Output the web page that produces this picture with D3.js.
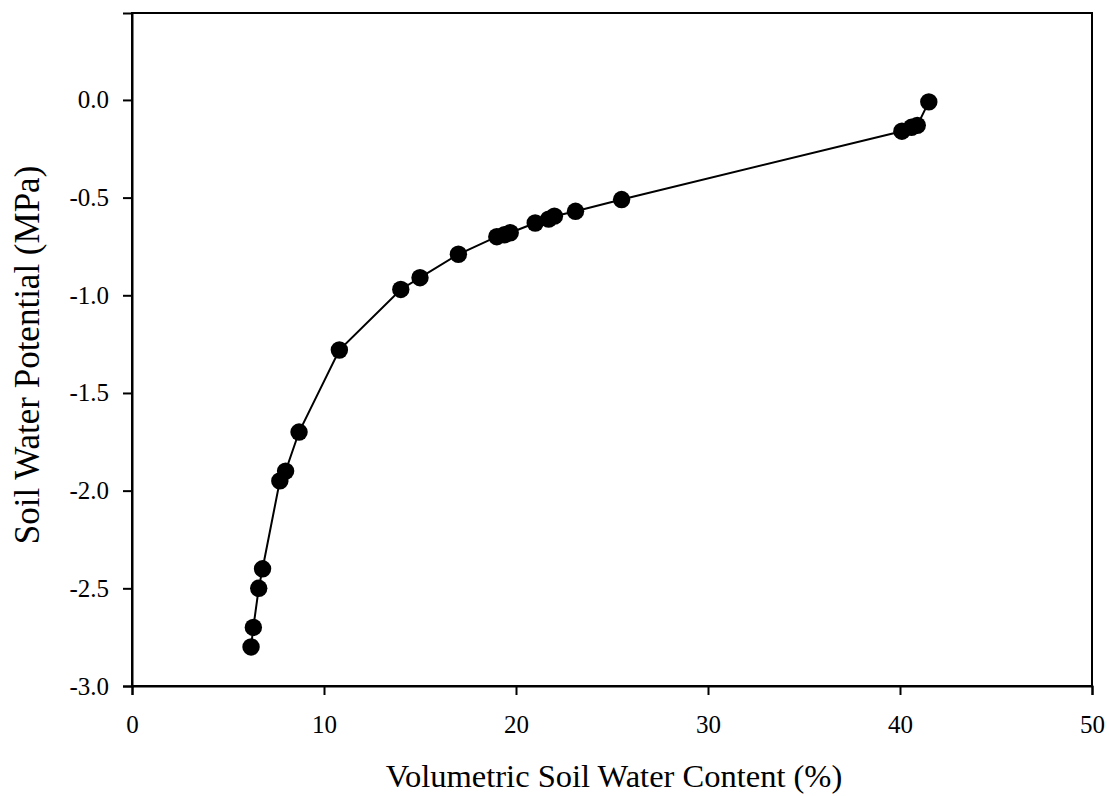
<!DOCTYPE html>
<html>
<head>
<meta charset="utf-8">
<script src="https://cdn.jsdelivr.net/npm/d3@7"></script>
<style>
  html, body { margin: 0; padding: 0; background: #fff; }
  svg { display: block; }
  text { font-family: "Liberation Serif", "Times New Roman", serif; fill: #000; }
</style>
</head>
<body>
<svg id="chart" width="1109" height="796"></svg>
<script>
const waterContent = [6.2, 6.32, 6.6, 6.8, 7.7, 8.0, 8.7, 10.8, 14.0, 15.0, 17.0, 19.0, 19.4, 19.7, 21.0, 21.7, 22.0, 23.1, 25.5, 40.1, 40.6, 40.9, 41.5];
const waterPotential = [-2.80, -2.70, -2.50, -2.40, -1.95, -1.90, -1.70, -1.28, -0.97, -0.91, -0.79, -0.70, -0.69, -0.68, -0.63, -0.61, -0.595, -0.57, -0.51, -0.16, -0.14, -0.13, -0.01];
const xTicks = [0, 10, 20, 30, 40, 50];
const yTicks = [-3.0, -2.5, -2.0, -1.5, -1.0, -0.5, 0.0];
const xTitle = "Volumetric Soil Water Content (%)";
const yTitle = "Soil Water Potential (MPa)";

const svg = d3.select("#chart");
const mLeft = 132, mRight = 1092, mTop = 13, mBottom = 686;

const x = d3.scaleLinear().domain([0, 50]).range([mLeft, mRight]);
const y = d3.scaleLinear().domain([-3.0, 0.445]).range([mBottom, mTop]);

const data = waterContent.map((v, i) => ({ x: v, y: waterPotential[i] }));

// frame
svg.append("rect")
  .attr("x", mLeft).attr("y", mTop)
  .attr("width", mRight - mLeft).attr("height", mBottom - mTop)
  .attr("fill", "none").attr("stroke", "#000").attr("stroke-width", 2);

// axes
const xAxis = svg.append("g")
  .attr("transform", `translate(0,${mBottom})`)
  .call(d3.axisBottom(x).tickValues(xTicks).tickFormat(d3.format("d")).tickSize(9).tickPadding(20));
const yAxis = svg.append("g")
  .attr("transform", `translate(${mLeft},0)`)
  .call(d3.axisLeft(y).tickValues(yTicks).tickFormat(d => d3.format(".1f")(d).replace("\u2212", "-")).tickSize(9).tickPadding(14));

[xAxis, yAxis].forEach(g => {
  g.attr("font-size", null).attr("font-family", null);
  g.select(".domain").attr("stroke", "#000").attr("stroke-width", 2);
  g.selectAll(".tick line").attr("stroke", "#000").attr("stroke-width", 2);
  g.selectAll(".tick text")
    .style("font-family", '"Liberation Serif", "Times New Roman", serif')
    .style("font-size", "25px").attr("fill", "#000");
});

// line
svg.append("path")
  .datum(data)
  .attr("fill", "none").attr("stroke", "#000").attr("stroke-width", 2)
  .attr("d", d3.line().x(d => x(d.x)).y(d => y(d.y)));

// points
svg.append("g").selectAll("circle").data(data).join("circle")
  .attr("cx", d => x(d.x)).attr("cy", d => y(d.y))
  .attr("r", 8.7).attr("fill", "#000");

// titles
svg.append("text")
  .attr("x", 614).attr("y", 787)
  .attr("text-anchor", "middle").style("font-size", "32.5px")
  .text(xTitle);
svg.append("text")
  .attr("transform", `translate(39,355) rotate(-90)`)
  .attr("text-anchor", "middle").style("font-size", "35px")
  .text(yTitle);
</script>
</body>
</html>
